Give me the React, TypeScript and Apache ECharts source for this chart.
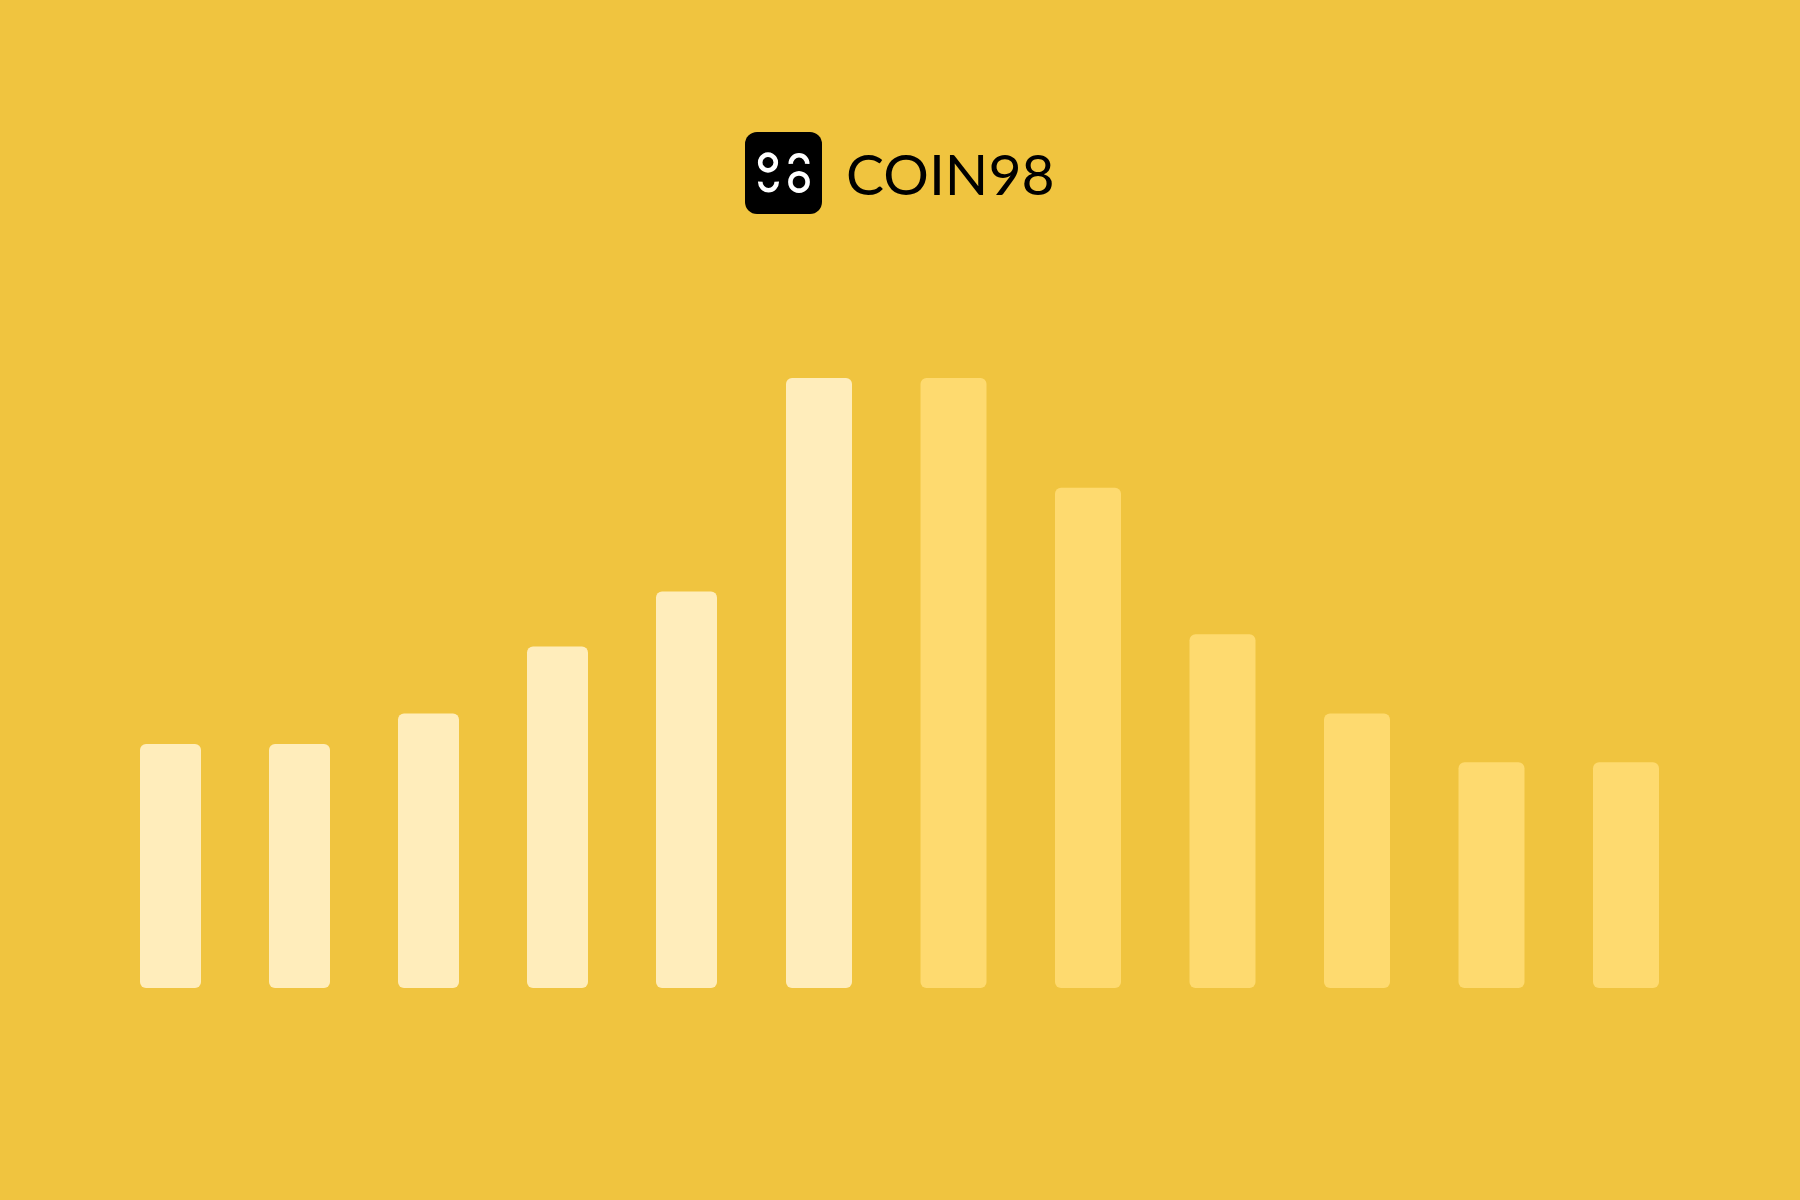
import React, { useEffect, useRef } from "react";
import * as echarts from "echarts";

// Bars left of the peak (narrower, cream)
const leftCategories = ["1", "2", "3", "4", "5"];
const leftValues = [40, 40, 45, 56, 65];
// Bars from the peak onwards (wider); the first one is still cream
const rightCategories = ["6", "7", "8", "9", "10", "11", "12"];
const rightValues = [100, 100, 82, 58, 45, 37, 37];
const rightCreamFlags = [true, false, false, false, false, false, false];

const brandText = "COIN98";

const BG = "#F0C43F";
const CREAM = "#FFEDBB";
const GOLD = "#FEDA6F";

export default function App() {
  const ref = useRef<HTMLDivElement>(null);
  useEffect(() => {
    if (!ref.current) return;
    const chart = echarts.init(ref.current, undefined, { renderer: "svg" });
    const barRadius = 6;
    const white = "#FFFFFF";
    const sw = 4.6;
    chart.setOption({
      animation: false,
      backgroundColor: BG,
      grid: [
        { left: 106, width: 645, top: 378, height: 610 },
        { left: 751.75, width: 941.5, top: 378, height: 610 },
      ],
      xAxis: [
        { type: "category", gridIndex: 0, data: leftCategories, show: false },
        { type: "category", gridIndex: 1, data: rightCategories, show: false },
      ],
      yAxis: [
        { type: "value", gridIndex: 0, min: 0, max: 100, show: false, splitLine: { show: false } },
        { type: "value", gridIndex: 1, min: 0, max: 100, show: false, splitLine: { show: false } },
      ],
      series: [
        {
          type: "bar",
          xAxisIndex: 0,
          yAxisIndex: 0,
          barWidth: 61,
          data: leftValues,
          itemStyle: { color: CREAM, borderRadius: barRadius },
        },
        {
          type: "bar",
          xAxisIndex: 1,
          yAxisIndex: 1,
          barWidth: 66,
          data: rightValues.map((v, i) => ({
            value: v,
            itemStyle: { color: rightCreamFlags[i] ? CREAM : GOLD },
          })),
          itemStyle: { color: GOLD, borderRadius: barRadius },
        },
      ],
      graphic: [
        {
          type: "rect",
          shape: { x: 745, y: 132, width: 77, height: 82, r: 12 },
          style: { fill: "#000000" },
        },
        // left glyph "9": ring on top, open arc below
        {
          type: "circle",
          shape: { cx: 768, cy: 162.5, r: 7.8 },
          style: { fill: "none", stroke: white, lineWidth: sw },
        },
        {
          type: "arc",
          shape: { cx: 768.5, cy: 182, r: 8.2, startAngle: -0.05, endAngle: Math.PI + 0.05, clockwise: true },
          style: { fill: "none", stroke: white, lineWidth: sw, lineCap: "butt" },
        },
        // right glyph "6": open arc on top, ring below
        {
          type: "arc",
          shape: { cx: 799, cy: 163.5, r: 8.2, startAngle: Math.PI - 0.05, endAngle: 2 * Math.PI + 0.05, clockwise: true },
          style: { fill: "none", stroke: white, lineWidth: sw, lineCap: "butt" },
        },
        {
          type: "circle",
          shape: { cx: 799, cy: 182, r: 8.6 },
          style: { fill: "none", stroke: white, lineWidth: sw },
        },
        {
          type: "text",
          x: 846,
          y: 172.5,
          style: {
            text: brandText,
            fill: "#000000",
            font: "400 57px Lato",
            textAlign: "left",
            textVerticalAlign: "middle",
          },
        },
      ],
    });
    return () => chart.dispose();
  }, []);
  return (
    <div
      ref={ref}
      style={{ position: "fixed", left: 0, top: 0, width: 1800, height: 1200 }}
    />
  );
}
